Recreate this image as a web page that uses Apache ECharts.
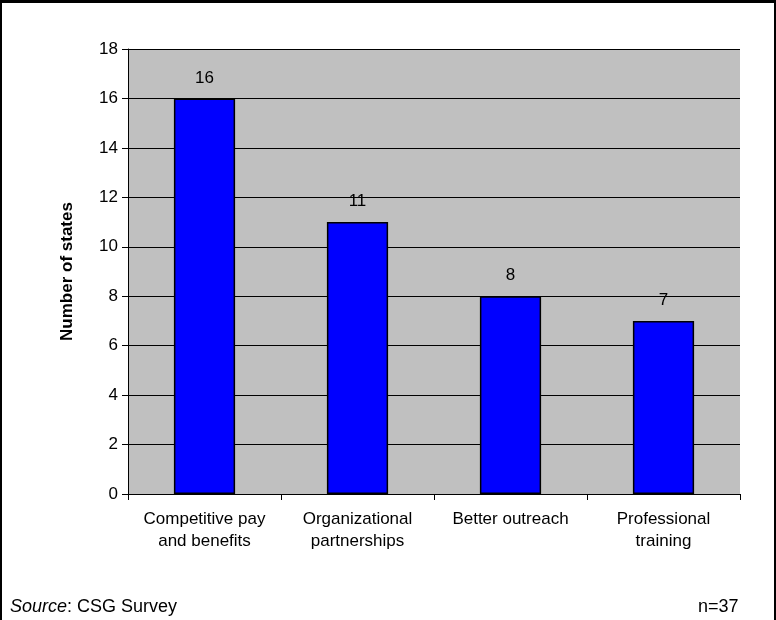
<!DOCTYPE html>
<html><head><meta charset="utf-8">
<script src="https://cdn.jsdelivr.net/npm/echarts@6/dist/echarts.min.js"></script>
<style>
html,body{margin:0;padding:0;background:#fff;}
#frame{position:absolute;left:0;top:0;width:772px;height:620px;border-top:3px solid #000;border-left:2px solid #000;border-right:2px solid #000;}
#c{width:776px;height:620px;position:absolute;left:0;top:0;}
</style></head><body>
<div id="frame"></div>
<div id="c"></div>
<script>
const categories = ['Competitive pay\nand benefits','Organizational\npartnerships','Better outreach','Professional\ntraining'];
const values = [16, 11, 8, 7];
const chart = echarts.init(document.getElementById('c'));
const F = 'Arial, "Liberation Sans", sans-serif';
chart.setOption({
  animation:false,
  grid:{left:128,right:36,top:49,bottom:126,show:true,backgroundColor:'#C0C0C0',borderColor:'#C0C0C0',borderWidth:0},
  xAxis:{type:'category',data:categories,
    axisLine:{lineStyle:{color:'#000',width:1}},
    axisTick:{show:true,alignWithLabel:false,length:6,lineStyle:{color:'#000'}},
    axisLabel:{interval:0,hideOverlap:false,color:'#000',fontSize:17,fontFamily:F,margin:14,lineHeight:22}},
  yAxis:{type:'value',min:0,max:18,interval:2,
    name:'Number of states',nameLocation:'middle',nameGap:52,
    nameTextStyle:{color:'#000',fontSize:17,fontWeight:'bold',fontFamily:F},
    axisLine:{show:true,lineStyle:{color:'#000'}},
    axisTick:{show:true,length:6,lineStyle:{color:'#000'}},
    splitLine:{lineStyle:{color:'#000',width:1}},
    axisLabel:{color:'#000',fontSize:17,fontFamily:F,margin:10}},
  series:[{type:'bar',data:values,barWidth:'40%',
    itemStyle:{color:'#0000FF',borderColor:'#000',borderWidth:1.5},
    label:{show:true,position:'top',distance:12,color:'#000',fontSize:17,fontFamily:F}}],
  graphic:[
    {type:'text',left:10,top:598,style:{rich:{i:{fontStyle:'italic',fontSize:18,fontFamily:F,fill:'#000'},n:{fontSize:18,fontFamily:F,fill:'#000'}},text:'{i|Source}{n|: CSG Survey}'}},
    {type:'text',left:698,top:598,style:{text:'n=37',fontSize:18,fontFamily:F,fill:'#000'}}
  ]
});
</script></body></html>
